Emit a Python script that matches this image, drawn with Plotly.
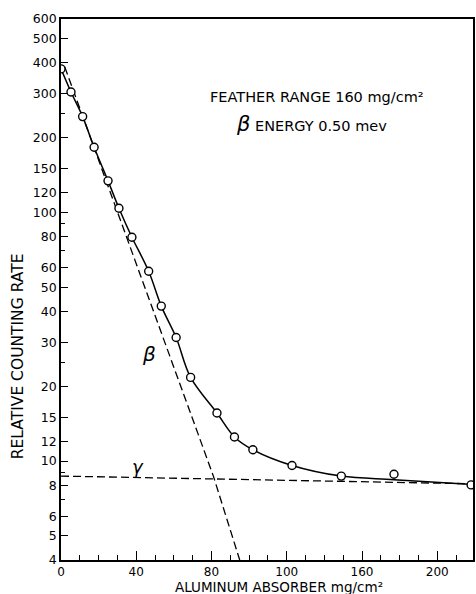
import plotly.graph_objects as go

# Measured data points (open circles)
absorber = [0, 5.3, 11.5, 17.6, 25.0, 30.8, 37.7, 46.6, 53.3, 61.2, 68.9, 82.9, 92.2, 102, 122.8, 149, 177, 218]
rate = [378, 305, 243, 183, 134, 104, 79.5, 58, 42, 31.4, 21.7, 15.6, 12.5, 11.1, 9.6, 8.7, 8.85, 8.02]

# Smooth total curve
curve_x = [0, 5.3, 11.5, 17.6, 25.0, 30.8, 37.7, 46.6, 53.3, 61.2, 68.9, 82.9, 92.2, 102, 122.8, 149, 177, 219]
curve_y = [378, 305, 243, 183, 134, 104, 79.5, 58, 42, 31.4, 21.7, 15.6, 12.5, 11.1, 9.6, 8.7, 8.42, 8.05]

# Beta component (dashed)
beta_x = [2, 35, 56, 81, 95]
beta_y = [385, 79, 28.7, 8.7, 4]

# Gamma component (dashed)
gamma_x = [0, 219]
gamma_y = [8.7, 8.1]

x_major = [0, 40, 80, 120, 160, 200]
x_labels = ["0", "40", "80", "100", "160", "200"]
x_minor = [10, 20, 30, 50, 60, 70, 90, 100, 110, 130, 140, 150, 170, 180, 190, 210]

y_major = [4, 5, 6, 8, 10, 12, 15, 20, 30, 40, 50, 60, 80, 100, 120, 150, 200, 300, 400, 500, 600]
y_minor = [7, 9, 25, 70, 90, 250]

FONT = "DejaVu Sans"

fig = go.Figure()
fig.add_trace(go.Scatter(x=gamma_x, y=gamma_y, mode="lines",
                         line=dict(color="black", width=1.3, dash="8px,4px"), hoverinfo="skip"))
fig.add_trace(go.Scatter(x=beta_x, y=beta_y, mode="lines",
                         line=dict(color="black", width=1.3, dash="8px,4px"), hoverinfo="skip"))
fig.add_trace(go.Scatter(x=curve_x, y=curve_y, mode="lines", line_shape="spline",
                         line=dict(color="black", width=1.5), hoverinfo="skip"))
fig.add_trace(go.Scatter(x=absorber, y=rate, mode="markers",
                         marker=dict(symbol="circle", size=8, color="white",
                                     line=dict(color="black", width=1.4))))

fig.update_layout(
    width=476, height=594,
    margin=dict(l=61, r=1, t=19, b=34),
    paper_bgcolor="white", plot_bgcolor="white",
    showlegend=False,
    font=dict(family=FONT, color="black", size=12),
)

fig.update_xaxes(
    range=[0, 219], showgrid=False, zeroline=False,
    showline=True, linecolor="black", linewidth=1.5, mirror=True,
    tickmode="array", tickvals=x_major, ticktext=x_labels,
    ticks="inside", ticklen=9, tickwidth=1.2, tickcolor="black",
    tickfont=dict(family=FONT, size=12, color="black"),
    minor=dict(tickmode="array", tickvals=x_minor, ticks="inside", ticklen=5,
               tickwidth=1, tickcolor="black", showgrid=False),
)
fig.update_yaxes(
    type="log", range=[0.60206, 2.77815], showgrid=False, zeroline=False,
    showline=True, linecolor="black", linewidth=1.8, mirror=True,
    tickmode="array", tickvals=y_major, ticktext=[str(v) for v in y_major],
    ticks="inside", ticklen=7, tickwidth=1.2, tickcolor="black",
    tickfont=dict(family=FONT, size=12.5, color="black"),
    minor=dict(tickmode="array", tickvals=y_minor, ticks="inside", ticklen=4,
               tickwidth=1, tickcolor="black", showgrid=False),
)

ann = [
    dict(text="FEATHER RANGE 160 mg/cm²", x=0.622, y=0.856, size=14.5),
    dict(text="<i><span style='font-size:21px'>β</span></i> ENERGY 0.50 mev", x=0.607, y=0.806, size=14.5),
    dict(text="RELATIVE COUNTING RATE", x=-0.104, y=0.377, size=15.5, angle=-90),
    dict(text="ALUMINUM ABSORBER mg/cm²", x=0.529, y=-0.049, size=13.5),
]
for a in ann:
    fig.add_annotation(text=a["text"], xref="paper", yref="paper", x=a["x"], y=a["y"],
                       showarrow=False, xanchor="center", yanchor="middle",
                       textangle=a.get("angle", 0),
                       font=dict(family=FONT, size=a["size"], color="black"))

fig.add_annotation(text="<i>β</i>", x=46.6, y=1.432, xref="x", yref="y", showarrow=False,
                   font=dict(family=FONT, size=20, color="black"))
fig.add_annotation(text="<i>γ</i>", x=40.7, y=0.98, xref="x", yref="y", showarrow=False,
                   font=dict(family=FONT, size=18, color="black"))

fig.write_html("out.html", config={"displayModeBar": False},
               post_script="document.body.style.margin='0';document.body.style.overflow='hidden';")
